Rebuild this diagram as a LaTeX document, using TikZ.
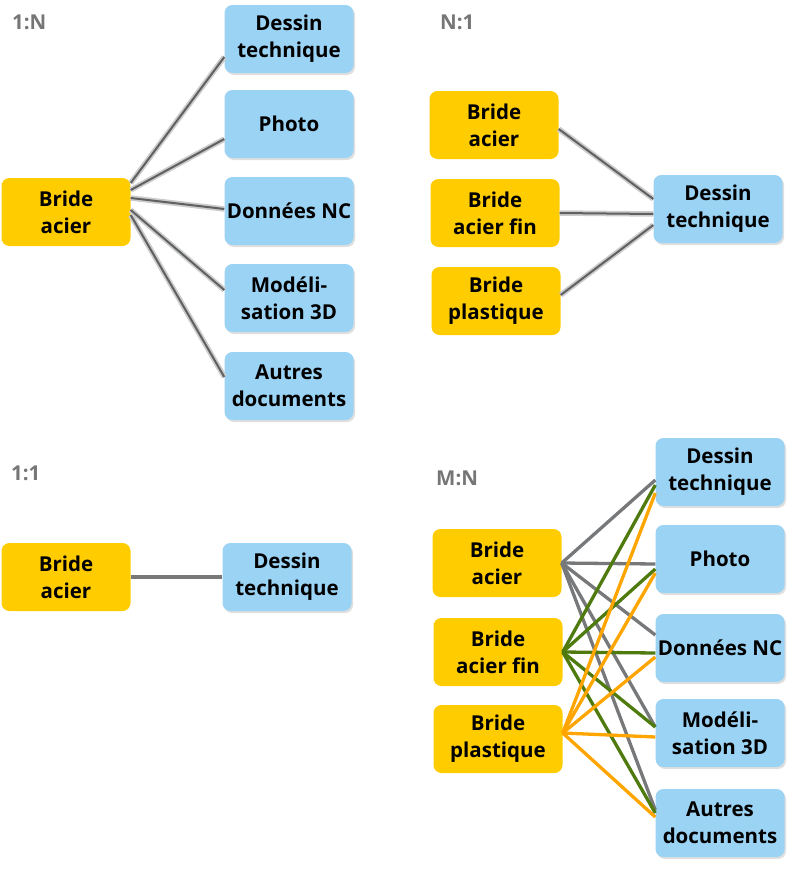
\documentclass[tikz,border=0pt]{standalone}
\usepackage{fontspec}
\setmainfont{Open Sans}
\usetikzlibrary{shadows}

\definecolor{bridecol}{HTML}{FFCC00}
\definecolor{doccol}{HTML}{9BD3F5}
\definecolor{linkgray}{HTML}{76787A}
\definecolor{linkgreen}{HTML}{4E7A0E}
\definecolor{linkorange}{HTML}{FFA500}
\definecolor{titlegray}{HTML}{767676}

\tikzset{
  box/.style={rounded corners=8pt, minimum width=129pt, minimum height=68pt,
    inner sep=0pt, align=center, font=\fontsize{20.5}{27}\selectfont\bfseries},
  bride/.style={box, fill=bridecol},
  doc/.style={box, fill=doccol,
    drop shadow={opacity=0.25, shadow xshift=1.5pt, shadow yshift=-2pt}},
  title/.style={anchor=west, inner sep=0pt, text=titlegray,
    font=\fontsize{20.5}{24}\selectfont\bfseries},
  halo/.style={linkgray!80!black, line width=2pt,
    preaction={draw=black!20, line width=5.5pt}},
  plain/.style={line width=3.3pt},
}

\begin{document}
\begin{tikzpicture}[x=1pt,y=-1pt]
  \useasboundingbox (0,0) rectangle (794,870);

  % 1:N
  \node[title] (t1n) at (12,22) {1:N};
  \node[bride] (a1) at (66,212) {Bride\\acier};
  \node[doc] (d1) at (289,39) {Dessin\\technique};
  \node[doc] (d2) at (289,124) {Photo};
  \node[doc] (d3) at (289,211) {Données NC};
  \node[doc] (d4) at (289,298) {Modéli-\\sation 3D};
  \node[doc] (d5) at (289,386) {Autres\\documents};

  \draw[halo] ([yshift=29pt]a1.east) -- ([yshift=-18pt]d1.west);
  \draw[halo] ([yshift=22pt]a1.east) -- ([yshift=-15pt]d2.west);
  \draw[halo] ([yshift=14pt]a1.east) -- ([yshift=2pt]d3.west);
  \draw[halo] ([yshift=2pt]a1.east) -- ([yshift=8pt]d4.west);
  \draw[halo] ([yshift=-3pt]a1.east) -- ([yshift=9pt]d5.west);

  % N:1
  \node[title] (tn1) at (440,22) {N:1};
  \node[bride] (b1) at (494,125) {Bride\\acier};
  \node[bride] (b2) at (495,213) {Bride\\acier fin};
  \node[bride] (b3) at (496,301) {Bride\\plastique};
  \node[doc] (e1) at (718,209) {Dessin\\technique};

  \draw[halo] ([yshift=-4pt]b1.east) -- ([yshift=10pt]e1.west);
  \draw[halo] (b2.east) -- ([yshift=-5pt]e1.west);
  \draw[halo] ([yshift=6pt]b3.east) -- ([yshift=-16pt]e1.west);

  % 1:1
  \node[title] (t11) at (11,473) {1:1};
  \node[bride] (c1) at (66,577) {Bride\\acier};
  \node[doc] (f1) at (287,577) {Dessin\\technique};

  \draw[plain, linkgray] (c1.east) -- (f1.west);

  % M:N
  \node[title] (tmn) at (436,478) {M:N};
  \node[bride] (m1) at (497,563) {Bride\\acier};
  \node[bride] (m2) at (498,652) {Bride\\acier fin};
  \node[bride] (m3) at (498,739) {Bride\\plastique};
  \node[doc] (n1) at (720,472) {Dessin\\technique};
  \node[doc] (n2) at (720,559) {Photo};
  \node[doc] (n3) at (720,648) {Données NC};
  \node[doc] (n4) at (720,733) {Modéli-\\sation 3D};
  \node[doc] (n5) at (720,823) {Autres\\documents};

  \draw[plain, linkgray] (m1.east) -- ([yshift=-8pt]n1.west);
  \draw[plain, linkgray] (m1.east) -- ([yshift=-5pt]n2.west);
  \draw[plain, linkgray] (m1.east) -- ([yshift=13pt]n3.west);
  \draw[plain, linkgray] (m1.east) -- ([yshift=6pt]n4.west);
  \draw[plain, linkgray] (m1.east) -- ([yshift=13pt]n5.west);

  \draw[plain, linkgreen] (m2.east) -- ([yshift=-13pt]n1.west);
  \draw[plain, linkgreen] (m2.east) -- ([yshift=-10pt]n2.west);
  \draw[plain, linkgreen] (m2.east) -- ([yshift=-5pt]n3.west);
  \draw[plain, linkgreen] (m2.east) -- ([yshift=6pt]n4.west);
  \draw[plain, linkgreen] (m2.east) -- ([yshift=10pt]n5.west);

  \draw[plain, linkorange] ([yshift=6pt]m3.east) -- ([yshift=-21pt]n1.west);
  \draw[plain, linkorange] ([yshift=6pt]m3.east) -- ([yshift=-14pt]n2.west);
  \draw[plain, linkorange] ([yshift=6pt]m3.east) -- ([yshift=-9pt]n3.west);
  \draw[plain, linkorange] ([yshift=6pt]m3.east) -- ([yshift=-4pt]n4.west);
  \draw[plain, linkorange] ([yshift=6pt]m3.east) -- ([yshift=6pt]n5.west);
\end{tikzpicture}
\end{document}
